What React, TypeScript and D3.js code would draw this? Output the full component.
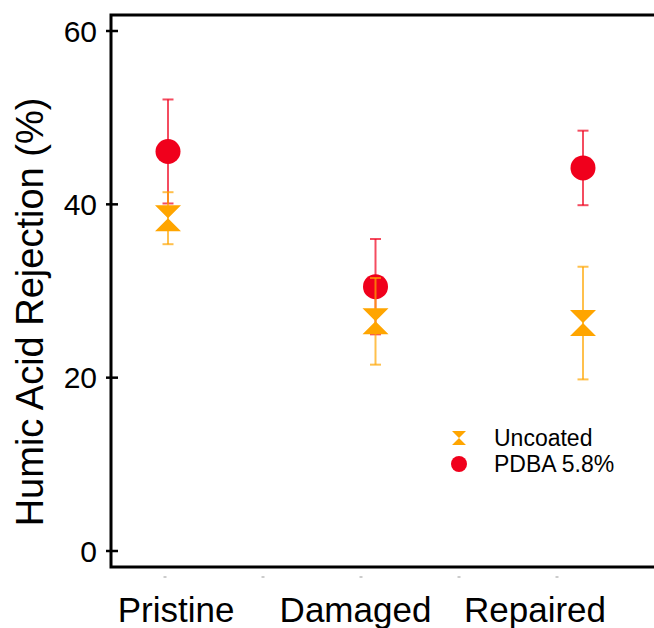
import React, { useEffect, useRef } from "react";
import * as d3 from "d3";

// Values
const categories = ["Pristine", "Damaged", "Repaired"];
const uncoatedMean = [38.4, 26.5, 26.3];
const uncoatedErr = [3.0, 5.0, 6.5];
const pdbaMean = [46.1, 30.5, 44.2];
const pdbaErr = [6.0, 5.5, 4.3];
const yTicks = [0, 20, 40, 60];
const minorTicks = [1, 1.5, 2, 2.5, 3];
const legendLabels = ["Uncoated", "PDBA 5.8%"];

const RED = "#f0001c";
const ORANGE = "#ffa500";
const FONT = "'Liberation Sans', Arial, Helvetica, sans-serif";

// hourglass: two triangles meeting at the centre
const hourglass = (w: number, h: number) =>
  `M${-w / 2},${-h / 2}L${w / 2},${-h / 2}L0,0Z M${-w / 2},${h / 2}L${w / 2},${h / 2}L0,0Z`;

export default function App() {
  const ref = useRef<SVGSVGElement>(null);

  useEffect(() => {
    const svg = d3.select(ref.current);
    svg.selectAll("*").remove();

    const y = d3.scaleLinear().domain([0, 60]).range([551, 31]);
    const x = d3.scalePoint().domain(categories).range([168, 583]);
    const xLabel = d3.scalePoint().domain(categories).range([176, 535]);
    const xMinor = d3.scaleLinear().domain([1, 3]).range([165, 557]);

    // frame (right side runs off the picture)
    svg
      .append("rect")
      .attr("x", 111)
      .attr("y", 15)
      .attr("width", 600)
      .attr("height", 552)
      .attr("fill", "none")
      .attr("stroke", "#000")
      .attr("stroke-width", 3);

    // y ticks and labels
    const yt = svg.append("g");
    yt.selectAll("line")
      .data(yTicks)
      .enter()
      .append("line")
      .attr("x1", 106)
      .attr("x2", 118)
      .attr("y1", (d) => y(d))
      .attr("y2", (d) => y(d))
      .attr("stroke", "#000")
      .attr("stroke-width", 2.5);
    yt.selectAll("text")
      .data(yTicks)
      .enter()
      .append("text")
      .attr("x", 97)
      .attr("y", (d) => y(d))
      .attr("dy", "0.36em")
      .attr("text-anchor", "end")
      .attr("font-family", FONT)
      .attr("font-size", 30)
      .text((d) => d);

    // tiny grey x tick marks
    svg
      .append("g")
      .selectAll("line")
      .data(minorTicks)
      .enter()
      .append("line")
      .attr("x1", (d) => xMinor(d) - 1.5)
      .attr("x2", (d) => xMinor(d) + 1.5)
      .attr("y1", 577)
      .attr("y2", 577)
      .attr("stroke", "#bbb")
      .attr("stroke-width", 1.5);

    // x category labels
    svg
      .append("g")
      .selectAll("text")
      .data(categories)
      .enter()
      .append("text")
      .attr("x", (d) => xLabel(d) as number)
      .attr("y", 622)
      .attr("text-anchor", "middle")
      .attr("font-family", FONT)
      .attr("font-size", 35)
      .text((d) => d);

    // y axis title
    svg
      .append("text")
      .attr("transform", "translate(43,312) rotate(-90)")
      .attr("text-anchor", "middle")
      .attr("font-family", FONT)
      .attr("font-size", 38)
      .text("Humic Acid Rejection (%)");

    const drawSeries = (
      mean: number[],
      err: number[],
      barColor: string,
      marker: (g: d3.Selection<SVGGElement, unknown, null, undefined>) => void
    ) => {
      categories.forEach((c, i) => {
        const cx = x(c) as number;
        const g = svg.append("g");
        const top = y(mean[i] + err[i]);
        const bot = y(mean[i] - err[i]);
        g.append("line")
          .attr("x1", cx)
          .attr("x2", cx)
          .attr("y1", top)
          .attr("y2", bot)
          .attr("stroke", barColor)
          .attr("stroke-width", 2);
        [top, bot].forEach((v) =>
          g
            .append("line")
            .attr("x1", cx - 5.5)
            .attr("x2", cx + 5.5)
            .attr("y1", v)
            .attr("y2", v)
            .attr("stroke", barColor)
            .attr("stroke-width", 2)
        );
        const m = g.append("g").attr("transform", `translate(${cx},${y(mean[i])})`);
        marker(m);
      });
    };

    drawSeries(pdbaMean, pdbaErr, "rgba(240,0,28,0.7)", (m) =>
      m.append("circle").attr("r", 12.5).attr("fill", RED)
    );
    drawSeries(uncoatedMean, uncoatedErr, "rgba(255,165,0,0.7)", (m) =>
      m.append("path").attr("d", hourglass(26, 26)).attr("fill", ORANGE)
    );

    // legend
    const lg = svg.append("g");
    lg.append("path")
      .attr("transform", "translate(459,438)")
      .attr("d", hourglass(14, 14))
      .attr("fill", ORANGE);
    lg.append("circle").attr("cx", 459).attr("cy", 464).attr("r", 8).attr("fill", RED);
    lg.selectAll("text")
      .data(legendLabels)
      .enter()
      .append("text")
      .attr("x", 494)
      .attr("y", (d, i) => 446 + i * 26)
      .attr("font-family", FONT)
      .attr("font-size", 23)
      .text((d) => d);
  }, []);

  return (
    <svg
      ref={ref}
      width={654}
      height={628}
      style={{ position: "absolute", left: 0, top: 0, background: "#fff" }}
    />
  );
}
